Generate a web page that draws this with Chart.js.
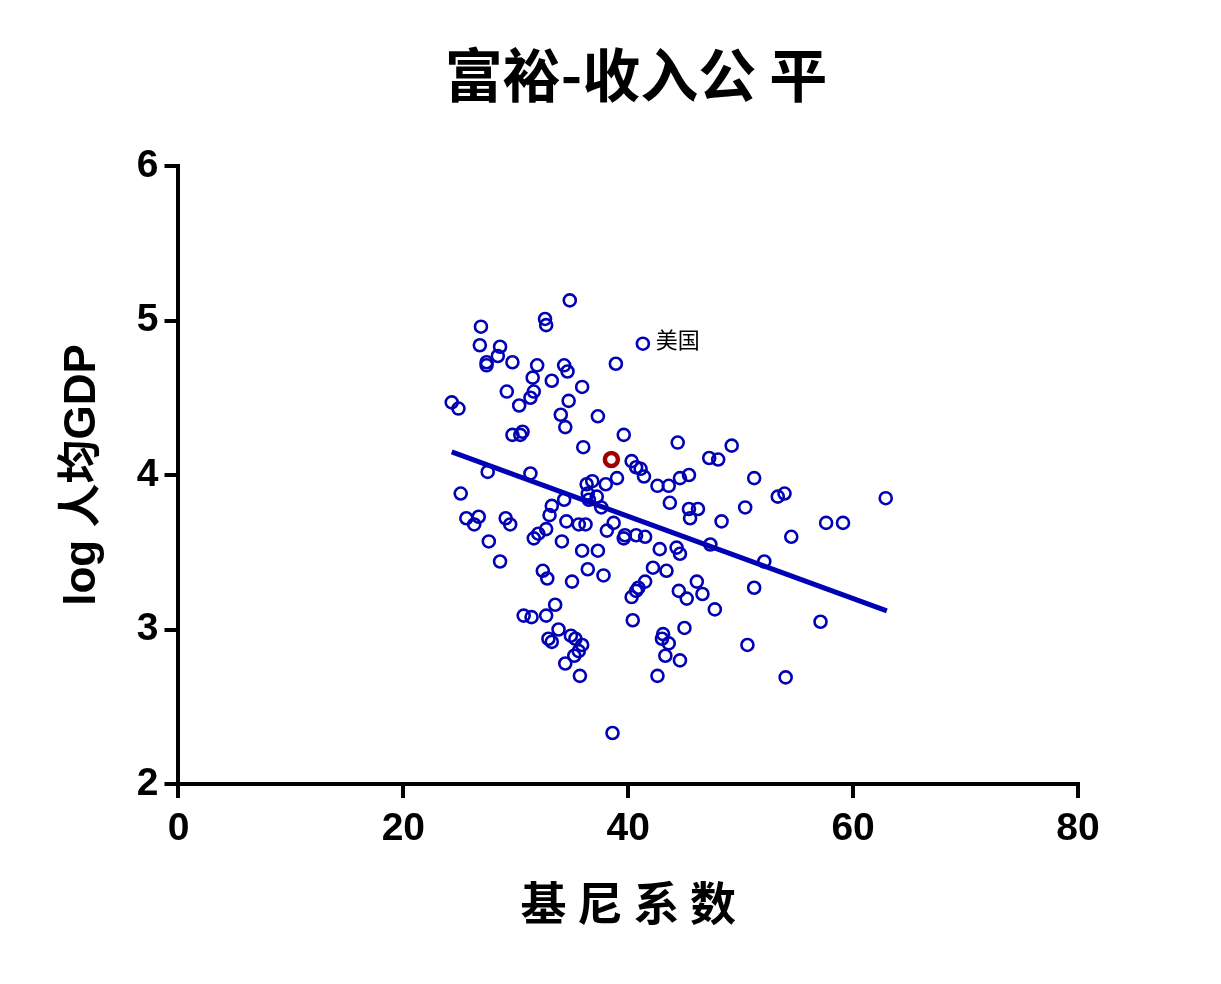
<!DOCTYPE html>
<html><head><meta charset="utf-8">
<script src="https://cdn.jsdelivr.net/npm/chart.js@4.4.0/dist/chart.umd.min.js"></script>
<style>body{margin:0;background:#fff}</style></head>
<body><canvas id="c" width="1221" height="984"></canvas>
<script>
const giniX=[24.3,24.9,26.9,26.8,28.6,28.4,27.4,27.4,29.7,32.6,32.7,34.8,31.9,31.5,34.3,34.6,35.9,33.2,29.2,31.6,31.3,34.7,37.3,34.0,34.4,30.3,29.7,30.4,30.6,41.3,38.9,36.0,39.6,36.3,36.8,38.0,39.0,
25.1,27.5,31.3,25.6,26.3,26.7,29.1,29.5,27.6,28.6,31.6,32.0,32.7,33.0,33.2,34.3,34.5,35.6,36.5,36.4,37.2,37.6,34.1,35.9,36.2,37.3,38.1,38.7,39.6,39.7,36.4,35.0,31.4,32.4,32.8,30.7,32.7,33.8,33.2,34.9,35.3,34.4,35.6,35.2,33.5,32.9,35.9,35.7,38.6,37.8,
40.3,40.7,41.1,41.4,44.4,42.6,43.6,44.6,45.4,47.2,48.0,49.2,51.2,53.3,53.9,62.9,43.7,45.4,45.5,46.2,48.3,50.4,41.5,42.8,40.7,47.3,44.3,44.6,42.2,43.4,44.5,41.5,40.7,40.9,46.1,46.6,47.7,40.3,45.2,45.0,40.4,43.0,43.1,43.6,43.3,44.6,42.6,50.6,51.2,52.1,54.5,57.6,59.1,57.1,54.0];
const gdpY=[4.47,4.43,4.96,4.84,4.83,4.77,4.73,4.71,4.73,5.01,4.97,5.13,4.71,4.63,4.71,4.67,4.57,4.61,4.54,4.54,4.50,4.48,4.38,4.39,4.31,4.45,4.26,4.26,4.28,4.85,4.72,4.18,4.26,3.94,3.96,3.94,3.98,
3.88,4.02,4.01,3.72,3.68,3.73,3.72,3.68,3.57,3.44,3.59,3.62,3.65,3.74,3.80,3.84,3.70,3.68,3.84,3.88,3.86,3.79,3.57,3.51,3.68,3.51,3.64,3.69,3.59,3.61,3.39,3.31,3.08,3.38,3.33,3.09,3.09,3.00,2.92,2.96,2.94,2.78,2.86,2.83,3.16,2.94,2.90,2.70,2.33,3.35,
4.09,4.05,4.04,3.99,4.21,3.93,3.93,3.98,4.00,4.11,4.10,4.19,3.98,3.86,3.88,3.85,3.82,3.78,3.72,3.78,3.70,3.79,3.60,3.52,3.61,3.55,3.53,3.49,3.40,3.38,3.25,3.31,3.25,3.27,3.31,3.23,3.13,3.21,3.20,3.01,3.06,2.94,2.97,2.91,2.83,2.80,2.70,2.90,3.27,3.44,3.60,3.69,3.69,3.05,2.69];
const highlightX=[38.5], highlightY=[4.10];
const usaX=41.3, usaY=4.85, usaLabel='美国';
const fitX=[24.3,63.0], fitY=[4.15,3.12];
const xTicks=[0,20,40,60,80], yTicks=[2,3,4,5,6];
const titleText='富裕-收入公 平';
const BLUE='#0000b4';
const toPts=(xs,ys)=>xs.map((x,i)=>({x,y:ys[i]}));
const labelPlugin={id:'lbl',afterDatasetsDraw(ch){const c=ch.ctx,xs=ch.scales.x,ys=ch.scales.y;c.save();
 c.font='22px "Noto Sans CJK SC"';c.fillStyle='#000';c.textBaseline='middle';c.textAlign='left';
 c.fillText(usaLabel,xs.getPixelForValue(usaX)+13,ys.getPixelForValue(usaY)-4);
 c.font='bold 58px "Noto Sans CJK SC"';c.textAlign='center';c.fillText(titleText,636,75);
 c.restore();}};
const tickFont={family:'"Liberation Sans",Arial',size:39,weight:'bold'};
new Chart(document.getElementById('c'),{
 data:{datasets:[
  {type:'scatter',data:toPts(giniX,gdpY),pointStyle:'circle',pointRadius:6,borderWidth:2.6,borderColor:BLUE,backgroundColor:'rgba(255,255,255,0)'},
  {type:'scatter',data:toPts(highlightX,highlightY),pointRadius:6.5,borderWidth:4.5,borderColor:'#a00000',backgroundColor:'#fff'},
  {type:'line',data:toPts(fitX,fitY),borderColor:BLUE,borderWidth:5,pointRadius:0,fill:false}
 ]},
 options:{responsive:false,animation:false,
  layout:{padding:{left:52,right:143,top:166,bottom:50}},
  plugins:{legend:{display:false},tooltip:{enabled:false},title:{display:false}},
  scales:{
   x:{type:'linear',min:0,max:80,afterBuildTicks(a){a.ticks=xTicks.map(v=>({value:v}))},
    ticks:{font:tickFont,color:'#000',padding:8},
    grid:{drawOnChartArea:false,tickLength:14,lineWidth:4,color:'#000'},border:{width:4,color:'#000'},
    title:{display:true,text:'基 尼 系 数',font:{family:'"Noto Sans CJK SC"',size:46,weight:'bold'},color:'#000',padding:{top:14}}},
   y:{type:'linear',min:2,max:6,afterBuildTicks(a){a.ticks=yTicks.map(v=>({value:v}))},
    ticks:{font:tickFont,color:'#000',padding:6},
    grid:{drawOnChartArea:false,tickLength:14,lineWidth:4,color:'#000'},border:{width:4,color:'#000'},
    title:{display:true,text:'log 人均GDP',font:{family:'"Liberation Sans","Noto Sans CJK SC"',size:44,weight:'bold'},color:'#000',padding:{bottom:22}}}
  }}
 ,plugins:[labelPlugin]});
</script></body></html>
